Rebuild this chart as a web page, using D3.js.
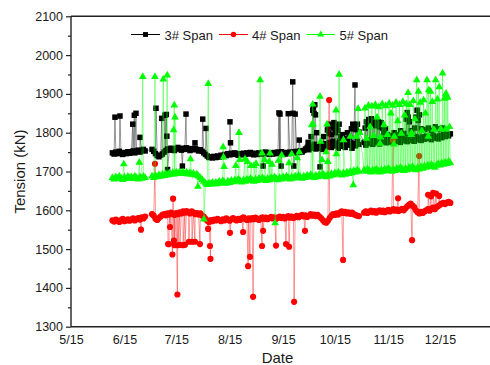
<!DOCTYPE html>
<html>
<head>
<meta charset="utf-8">
<script src="https://cdn.jsdelivr.net/npm/d3@7"></script>
<style>
  body { margin: 0; background: #fff; }
  svg { display: block; }
  text { font-family: "Liberation Sans", Arial, sans-serif; fill: #1a1a1a; }
</style>
</head>
<body>
<svg id="chart" width="490" height="365"></svg>
<script>
// Day 0 = 15 May; daily readings start at day 24.
const originDate = Date.UTC(2013, 4, 15);
const firstDay = 24;

const seriesNames = ["3# Span", "4# Span", "5# Span"];
const yTicks = [1300, 1400, 1500, 1600, 1700, 1800, 1900, 2000, 2100];
const xTickLabels = ["5/15", "6/15", "7/15", "8/15", "9/15", "10/15", "11/15", "12/15"];

// 3# Span daily readings (kN), null = no record
const span3Daily = [
  1748,1745,1750,1746,1752,1747,1744,1749,1746,1751,
  1747,1750,1753,1748,1752,1755,1750,1754,1757,1753,
  null,null,null,
  1757,1752,1746,1741,1738,1742,1745,
  1750,1754,1758,1755,1760,1757,1754,1759,1762,1758,
  1755,1760,1757,1761,1758,1754,1759,1756,1760,1757,
  1753,1756,1752,1748,1744,1740,1736,1738,1735,1739,
  1736,1740,1737,1742,1739,1744,1741,1746,1743,1747,
  1744,1748,1745,1742,1746,1743,1747,1744,1748,1745,
  1749,1746,1743,1747,1744,1748,1745,1749,1746,1750,
  1747,1744,1748,1745,1749,1746,1750,1747,1751,1748,
  1745,1749,1746,1750,1747,1751,1748,1752,1749,1753,
  1750,1754,1758,1762,1756,1766,1760,1770,1758,1764,
  1760,1768,1757,1772,1763,1770,1775,1762,1778,1766,
  1773,1760,1778,1765,1770,1762,1776,1768,1774,1760,
  1772,1766,1778,1770,null,null,1775,1768,1780,1772,
  1778,1770,1782,1774,1779,1771,1783,1776,1781,1774,
  1784,1776,1780,1773,1785,1778,1782,1775,1786,1779,
  1783,1777,1788,1780,1785,1778,1790,1782,1786,1780,
  1789,1783,1791,1785,1788,1782,1792,1786,1790,1784,
  1793,1787,1795,1790,1796,1792,1797
];
// 4# Span daily readings (kN)
const span4Daily = [
  1574,1571,1576,1573,1570,1575,1578,1572,1574,1577,
  1573,1576,1579,1574,1577,1580,1576,1582,1579,1584,
  null,null,null,
  1590,1586,1578,1575,1580,1584,1588,
  1590,1587,1592,1589,1594,1591,1588,1593,1590,1595,
  1592,1597,1594,1598,1595,1592,1597,1594,1590,1593,
  1589,1592,1587,1584,1578,1573,1570,1575,1572,1576,
  1574,1578,1575,1572,1577,1574,1579,1576,1573,1577,
  1580,1576,1574,1578,1575,1579,1582,1578,1575,1579,
  1576,1580,1577,1581,1578,1575,1579,1582,1578,1581,
  1577,1580,1583,1579,1582,1578,1581,1584,1580,1583,
  1579,1582,1585,1581,1584,1580,1583,1586,1582,1585,
  1588,1584,1587,1583,1586,1590,1586,1589,1585,1588,
  1584,1580,1575,1570,1568,1573,1580,1586,1590,1588,
  1592,1589,1594,1597,1593,1596,1592,1595,1591,1594,
  1590,1588,1586,1585,null,null,1594,1597,1593,1596,
  1599,1595,1598,1594,1597,1600,1596,1599,1595,1598,
  1601,1597,1600,1603,1599,1602,1598,1601,1604,1600,
  1605,1610,1614,1617,1612,1608,1600,1595,1592,1596,
  1593,1597,1600,1603,1599,1604,1607,1603,1608,1611,
  1614,1617,1619,1616,1620,1622,1619
];
// 5# Span daily readings (kN)
const span5Daily = [
  1684,1680,1686,1682,1688,1683,1679,1685,1681,1687,
  1683,1686,1681,1688,1684,1680,1686,1682,1687,1684,
  null,null,null,
  1688,1684,1690,1686,1691,1687,1693,
  1689,1694,1690,1696,1692,1697,1693,1698,1694,1699,
  1695,1699,1694,1698,1693,1697,1692,1695,1690,1693,
  1688,1684,1679,1674,1670,1666,1670,1667,1672,1668,
  1672,1668,1674,1670,1676,1672,1669,1675,1671,1677,
  1673,1678,1674,1680,1676,1672,1678,1674,1680,1676,
  1682,1678,1674,1680,1676,1682,1678,1684,1680,1676,
  1682,1678,1684,1680,1686,1682,1678,1684,1680,1686,
  1682,1688,1684,1680,1686,1682,1688,1684,1690,1686,
  1682,1688,1684,1690,1686,1692,1688,1684,1690,1686,
  1692,1688,1694,1690,1686,1692,1688,1694,1690,1696,
  1692,1698,1694,1690,1696,1692,1698,1694,1700,1696,
  1702,1698,1704,1700,null,null,1704,1700,1706,1702,
  1698,1704,1700,1706,1702,1698,1704,1700,1706,1702,
  1708,1704,1700,1706,1702,1708,1704,1710,1706,1702,
  1708,1704,1710,1706,1712,1708,1704,1710,1706,1712,
  1708,1714,1710,1716,1712,1718,1714,1710,1716,1720,
  1716,1722,1718,1724,1720,1726,1722
];

// Intermediate (sub-daily) readings: day offsets and values
const span3ExtraDays = [
  25.5,28.4,35.8,36.7,37.7,40.0,49.3,52.6,54.5,55.3,55.6,56.0,64.6,66.7,71.9,76.4,78.3,92.2,92.5,
  111.4,120.6,121.2,121.8,126.0,128.6,128.8,129.2,130.0,132.4,
  137.5,139.2,140.2,140.6,141.0,141.4,141.8,142.5,144.4,146.5,148.7,149.2,149.6,150.3,151.0,
  152.0,152.5,153.2,154.0,154.8,155.5,156.3,157.4,159.0,160.3,161.5,162.6,163.4,164.2,164.7,
  165.3,166.1,167.0,170.6,171.3,172.0,172.7,173.4,174.1,174.8,175.5,176.2,176.9,177.6,178.3,
  179.0,179.8,180.6,181.5,182.4,183.6,185.5,187.4,189.3,191.2,193.0,194.4,195.0,195.6,196.3,
  197.4,199.2,200.0,200.7,201.4,202.1,203.2,205.2,207.3,209.2,211.3,213.4,215.4,217.3
];
const span3ExtraVals = [
  1840,1843,1822,1845,1850,1788,1863,1837,1845,1847,1791,1705,1714,1848,1774,1835,1811,1828,1774,
  1714,1851,1848,1714,1849,1931,1850,1714,1848,1781,
  1775,1790,1858,1866,1850,1872,1846,1800,1712,1790,1807,1818,1798,1822,1795,
  1812,1826,1800,1816,1806,1822,1790,1795,1785,1800,1788,1810,1822,1815,1923,
  1808,1822,1802,1812,1828,1818,1834,1824,1836,1820,1830,1818,1832,1822,1828,
  1815,1826,1812,1800,1810,1795,1792,1800,1795,1805,1798,1835,1852,1840,1828,
  1805,1812,1840,1858,1832,1846,1810,1808,1812,1806,1815,1810,1812,1808
];
const span4ExtraDays = [
  40.6,48.7,56.3,56.8,57.4,58.8,59.2,59.7,60.1,61.7,62.0,63.2,65.0,66.1,68.4,70.2,71.9,74.8,
  79.5,80.6,80.9,92.2,99.8,102.7,103.8,105.6,110.8,111.4,118.9,124.7,126.5,129.4,135.7,
  149.7,157.8,186.8,189.7,197.8,201.9,207.1,208.8,210.0,211.7,213.5
];
const span4ExtraVals = [
  1550,1720,1513,1513,1557,1486,1630,1522,1510,1383,1510,1511,1510,1511,1519,1519,1519,1513,
  1552,1508,1475,1542,1544,1456,1480,1377,1508,1547,1509,1513,1506,1364,1547,
  1884,1472,1780,1631,1523,1740,1640,1636,1645,1643,1637
];
const span5ExtraDays = [
  30.6,39.6,41.6,48.7,53.5,55.8,59.5,59.9,60.3,69.3,73.6,77.1,79.6,88.2,88.5,88.8,95.6,97.4,97.8,
  100.9,102.3,104.4,106.1,107.3,109.7,110.8,112.4,114.9,115.4,116.6,118.4,120.3,122.2,126.4,128.0,
  131.2,132.4,139.6,140.2,140.4,144.4,144.7,145.6,148.0,148.5,149.0,153.7,153.9,155.5,158.0,
  162.0,163.7,165.5,166.5,167.5,170.5,171.5,172.5,173.5,174.5,175.5,176.5,
  177.5,178.5,179.25,179.5,180.5,181.5,182.5,183.5,184.5,185.5,186.5,
  187.25,187.5,188.5,189.5,190.5,191.5,192.5,193.5,194.5,195.5,196.5,
  197.25,197.5,198.5,199.5,200.5,201.5,202.5,203.5,204.5,205.5,206.5,
  207.25,207.5,208.5,209.5,210.5,211.5,212.5,213.5,214.5,215.5,216.5,
  217.25,217.5,218.5,219.5
];
const span5ExtraVals = [
  1719,1723,1944,1944,1938,1948,1807,1871,1840,1732,1661,1577,1926,1763,1737,1712,1715,1800,1730,
  1732,1725,1715,1715,1720,1936,1747,1730,1725,1747,1718,1567,1728,1742,1722,1745,
  1735,1750,1820,1873,1822,1893,1777,1730,1750,1822,1725,1858,1745,1950,1781,
  1790,1665,1790,1862,1800,1863,1785,1870,1815,1868,1792,1872,
  1840,1866,1772,1788,1874,1820,1869,1795,1876,1850,1870,
  1770,1790,1878,1830,1872,1798,1880,1845,1874,1903,1872,
  1795,1800,1882,1835,1936,1906,1878,1805,1884,1850,1936,
  1790,1910,1906,1880,1808,1936,1886,1918,1810,1953,1888,
  1808,1901,1891,1815
];

const dayToDate = d => new Date(originDate + d * 86400000);

function buildSeries(daily, extraDays, extraVals) {
  const pts = [];
  daily.forEach((v, i) => { if (v != null) pts.push({ day: firstDay + i, value: v }); });
  extraDays.forEach((d, i) => pts.push({ day: d, value: extraVals[i] }));
  pts.sort((a, b) => a.day - b.day);
  return pts;
}

const series = [
  { name: seriesNames[0], points: buildSeries(span3Daily, span3ExtraDays, span3ExtraVals),
    color: "#000000", lineColor: "#000000", symbol: d3.symbolSquare, size: 30 },
  { name: seriesNames[1], points: buildSeries(span4Daily, span4ExtraDays, span4ExtraVals),
    color: "#ff0000", lineColor: "#ff0000", symbol: d3.symbolCircle, size: 30 },
  { name: seriesNames[2], points: buildSeries(span5Daily, span5ExtraDays, span5ExtraVals),
    color: "#00ff00", lineColor: "#00ff00", symbol: d3.symbolTriangle, size: 26 }
];

const svg = d3.select("#chart");
const plotLeft = 71, plotTop = 16.3, plotBottom = 326.7, plotRight = 490;

const x = d3.scaleUtc()
  .domain([dayToDate(0), dayToDate(214)])
  .range([plotLeft, 440]);
const y = d3.scaleLinear().domain([1300, 2100]).range([plotBottom, plotTop]);

// Series: connecting lines then markers
const line = d3.line().x(p => x(dayToDate(p.day))).y(p => y(p.value));
series.forEach(s => {
  const g = svg.append("g");
  g.append("path")
    .attr("d", line(s.points))
    .attr("fill", "none")
    .attr("stroke", s.lineColor)
    .attr("stroke-width", 0.8)
    .attr("stroke-opacity", 0.5);
  g.selectAll("path.m").data(s.points).join("path")
    .attr("class", "m")
    .attr("transform", p => `translate(${x(dayToDate(p.day))},${y(p.value)})`)
    .attr("d", d3.symbol().type(s.symbol).size(s.size))
    .attr("fill", s.color);
});

// Frame: top border, left and bottom axes
svg.append("line").attr("x1", plotLeft).attr("x2", plotRight)
  .attr("y1", plotTop).attr("y2", plotTop)
  .attr("stroke", "#222").attr("stroke-width", 1.4);
svg.append("line").attr("x1", plotLeft).attr("x2", plotRight)
  .attr("y1", plotBottom).attr("y2", plotBottom)
  .attr("stroke", "#222").attr("stroke-width", 1.4);
svg.append("line").attr("x1", plotLeft).attr("x2", plotLeft)
  .attr("y1", plotTop).attr("y2", plotBottom)
  .attr("stroke", "#222").attr("stroke-width", 1.4);

const yAxis = svg.append("g").attr("transform", `translate(${plotLeft},0)`)
  .call(d3.axisLeft(y).tickValues(yTicks).tickSize(5).tickPadding(3).tickFormat(d3.format("d")));
yAxis.select(".domain").remove();
yAxis.selectAll("line").attr("stroke", "#222").attr("stroke-width", 1.2);
yAxis.selectAll("text").style("font-size", "12.5px").attr("fill", "#1a1a1a");

const minorTicks = d3.range(1350, 2100, 100);
const yMinor = svg.append("g").attr("transform", `translate(${plotLeft},0)`)
  .call(d3.axisLeft(y).tickValues(minorTicks).tickSize(3).tickFormat(""));
yMinor.select(".domain").remove();
yMinor.selectAll("line").attr("stroke", "#222").attr("stroke-width", 1.2);

const xTickDates = xTickLabels.map((_, i) => new Date(Date.UTC(2013, 4 + i, 15)));
const xAxis = svg.append("g").attr("transform", `translate(0,${plotBottom})`)
  .call(d3.axisBottom(x).tickValues(xTickDates).tickSize(0).tickPadding(8)
    .tickFormat((d, i) => xTickLabels[i]));
xAxis.select(".domain").remove();
xAxis.selectAll("text").style("font-size", "12.5px").attr("fill", "#1a1a1a");

// Axis titles
svg.append("text").attr("x", 277.5).attr("y", 362.5)
  .attr("text-anchor", "middle").style("font-size", "15px").text("Date");
svg.append("text")
  .attr("transform", `translate(25,${(plotTop + plotBottom) / 2}) rotate(-90)`)
  .attr("text-anchor", "middle").style("font-size", "15px").text("Tension (kN)");

// Legend
const legendItems = [
  { x1: 131, x2: 160, textX: 164.5 },
  { x1: 219, x2: 248, textX: 252 },
  { x1: 306.5, x2: 335, textX: 339.5 }
];
const legendY = 34.5;
series.forEach((s, i) => {
  const L = legendItems[i];
  svg.append("line").attr("x1", L.x1).attr("x2", L.x2)
    .attr("y1", legendY).attr("y2", legendY)
    .attr("stroke", s.lineColor).attr("stroke-width", 1);
  svg.append("path")
    .attr("transform", `translate(${(L.x1 + L.x2) / 2},${legendY})`)
    .attr("d", d3.symbol().type(s.symbol).size(s.size * 0.8))
    .attr("fill", s.color);
  svg.append("text").attr("x", L.textX).attr("y", legendY + 5)
    .style("font-size", "13px").text(s.name);
});
</script>
</body>
</html>
